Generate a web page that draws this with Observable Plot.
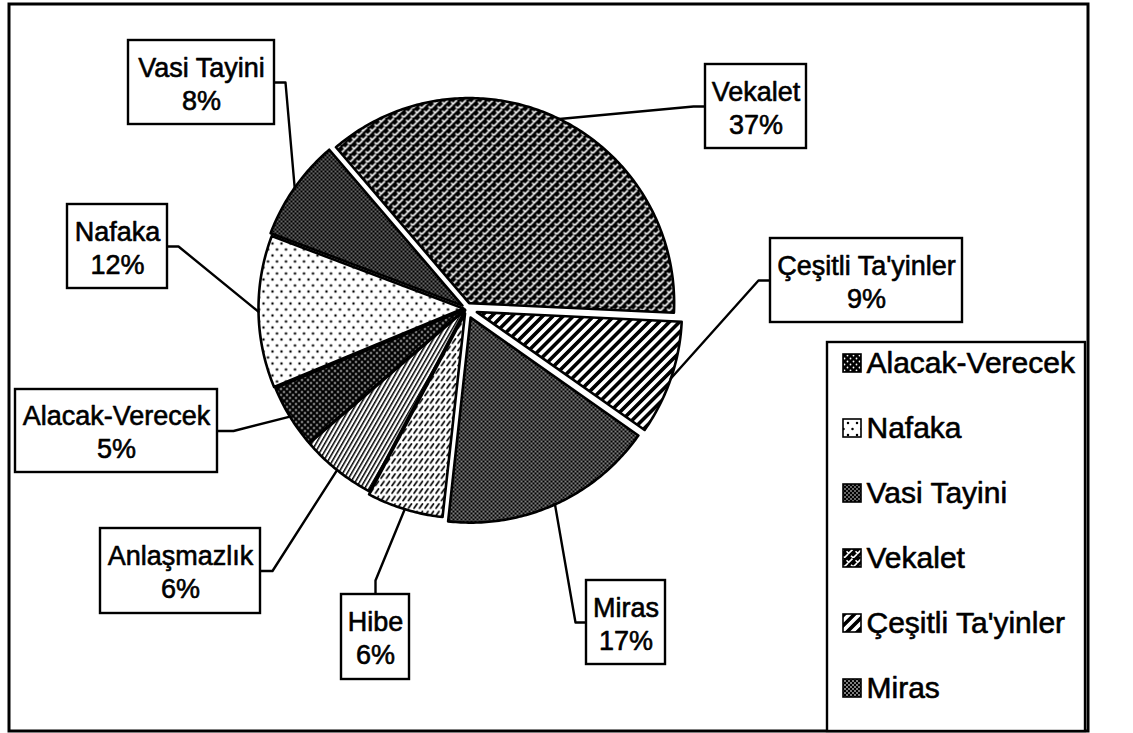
<!DOCTYPE html>
<html><head><meta charset="utf-8">
<script src="https://cdn.jsdelivr.net/npm/d3@7"></script>
<script src="https://cdn.jsdelivr.net/npm/@observablehq/plot@0.6"></script>
<style>html,body{margin:0;padding:0;background:#fff;}</style>
</head><body><div id="chart"></div>
<script>
// ---- data ----
const categories = ["Alacak-Verecek","Nafaka","Vasi Tayini","Vekalet","Çeşitli Ta'yinler","Miras","Hibe","Anlaşmazlık"];
const percents = [5, 12, 8, 37, 9, 17, 6, 6];
const legendItems = ["Alacak-Verecek","Nafaka","Vasi Tayini","Vekalet","Çeşitli Ta'yinler","Miras"];

// ---- layout ----
const W = 1133, H = 733;
const CX = 466, CY = 308, R = 205, START = 229.5;
const explode = [2, 3, 5, 6, 11, 10, 5, 2];
const patternIds = ["p-alacak","p-nafaka","p-vasi","p-vekalet","p-cesitli","p-miras","p-hibe","p-anlas"];
const boxes = [
  {x1: 15,  x2: 217, y1: 389, y2: 472, side: "right", elbow: 16},
  {x1: 67,  x2: 167, y1: 204, y2: 288, side: "right", elbow: 11},
  {x1: 128, x2: 274, y1: 40,  y2: 124, side: "right", elbow: 11},
  {x1: 705, x2: 806, y1: 64,  y2: 148, side: "left",  elbow: 12},
  {x1: 770, x2: 962, y1: 238, y2: 322, side: "left",  elbow: 12},
  {x1: 586, x2: 665, y1: 580, y2: 664, side: "left",  elbow: 11},
  {x1: 341, x2: 409, y1: 594, y2: 679, side: "top",   elbow: 14},
  {x1: 100, x2: 260, y1: 528, y2: 613, side: "right", elbow: 12}
];
const legendBox = {x1: 827, x2: 1085, y1: 342, y2: 731};
const legendY0 = 363, legendStep = 65, swX = 843, swS = 18, legTextX = 866;
const frame = {x1: 9, x2: 1088, y1: 4, y2: 731};
const FONT = "Liberation Sans, Arial, Helvetica, sans-serif";

// ---- geometry from data ----
const toRad = Math.PI / 180;
const arcs = d3.pie().sort(null).value(d => d)
  .startAngle(START * toRad).endAngle(START * toRad + 2 * Math.PI)(percents);

const slicePts = [];
const leaderPts = [];
arcs.forEach((a, i) => {
  const mid = (a.startAngle + a.endAngle) / 2;
  const ox = CX + explode[i] * Math.sin(mid), oy = CY - explode[i] * Math.cos(mid);
  slicePts.push({i, x: ox, y: oy});
  const n = Math.max(10, Math.ceil((a.endAngle - a.startAngle) * 80));
  for (let k = 0; k <= n; k++) {
    const t = a.startAngle + (a.endAngle - a.startAngle) * k / n;
    slicePts.push({i, x: ox + R * Math.sin(t), y: oy - R * Math.cos(t)});
  }
  const b = boxes[i];
  const bcx = (b.x1 + b.x2) / 2, bcy = (b.y1 + b.y2) / 2;
  let anchor, elbow;
  if (b.side === "right") { anchor = [b.x2, bcy]; elbow = [b.x2 + b.elbow, bcy]; }
  else if (b.side === "left") { anchor = [b.x1, bcy]; elbow = [b.x1 - b.elbow, bcy]; }
  else { anchor = [bcx, b.y1]; elbow = [bcx, b.y1 - b.elbow]; }
  leaderPts.push({i, x: ox + R * Math.sin(mid), y: oy - R * Math.cos(mid)});
  leaderPts.push({i, x: elbow[0], y: elbow[1]});
  leaderPts.push({i, x: anchor[0], y: anchor[1]});
});

const labels = boxes.map((b, i) => ({
  x: (b.x1 + b.x2) / 2, y: (b.y1 + b.y2) / 2,
  text: `${categories[i]}\n${percents[i]}%`
}));
const legendRows = legendItems.map((name, k) => ({
  name, y: legendY0 + k * legendStep, pat: patternIds[categories.indexOf(name)]
}));

const sliceMarks = arcs.map((a, i) =>
  Plot.line(slicePts.filter(p => p.i === i), {
    x: "x", y: "y", curve: "linear-closed",
    fill: `url(#${patternIds[i]})`, stroke: "black", strokeWidth: 2.6, strokeLinejoin: "round"
  })
);

const svg = Plot.plot({
  width: W, height: H, margin: 0,
  x: {domain: [0, W], range: [0, W], axis: null},
  y: {domain: [0, H], range: [0, H], axis: null},
  style: {fontFamily: FONT, background: "white"},
  marks: [
    Plot.rect([frame], {x1: "x1", x2: "x2", y1: "y1", y2: "y2", fill: "none", stroke: "black", strokeWidth: 3}),
    ...sliceMarks,
    Plot.line(leaderPts, {x: "x", y: "y", z: "i", stroke: "black", strokeWidth: 2.4}),
    Plot.rect(boxes, {x1: "x1", x2: "x2", y1: "y1", y2: "y2", fill: "white", stroke: "black", strokeWidth: 2.4}),
    Plot.text(labels, {x: "x", y: "y", text: "text", fontSize: 27, lineHeight: 1.22, fill: "black", stroke: "black", strokeWidth: 0.6, fontFamily: FONT}),
    Plot.rect([legendBox], {x1: "x1", x2: "x2", y1: "y1", y2: "y2", fill: "white", stroke: "black", strokeWidth: 2.4}),
    ...legendRows.map(r => Plot.rect([r], {
      x1: () => swX, x2: () => swX + swS, y1: d => d.y - swS / 2, y2: d => d.y + swS / 2,
      fill: `url(#${r.pat})`, stroke: "black", strokeWidth: 1.6
    })),
    Plot.text(legendRows, {x: () => legTextX, y: "y", text: "name", textAnchor: "start", fontSize: 30, fill: "black", stroke: "black", strokeWidth: 0.6, fontFamily: FONT})
  ]
});

const defs = `
<pattern id="p-alacak" patternUnits="userSpaceOnUse" width="6" height="6"><rect width="6" height="6" fill="#000"/><circle cx="1.5" cy="1.5" r="0.9" fill="#fff"/><circle cx="4.5" cy="4.5" r="0.9" fill="#fff"/></pattern>
<pattern id="p-nafaka" patternUnits="userSpaceOnUse" width="9" height="12"><rect width="9" height="12" fill="#fff"/><circle cx="2" cy="3" r="1.25" fill="#000"/><circle cx="6.5" cy="9" r="1.25" fill="#000"/></pattern>
<pattern id="p-vasi" patternUnits="userSpaceOnUse" width="4" height="4"><rect width="4" height="4" fill="#000"/><circle cx="1" cy="1" r="0.75" fill="#fff"/><circle cx="3" cy="3" r="0.75" fill="#fff"/></pattern>
<pattern id="p-vekalet" patternUnits="userSpaceOnUse" width="9" height="9"><rect width="9" height="9" fill="#000"/><path d="M0.5,2.2 l2.2,2.2 l3.8,-3.8 M5,6.7 l2.2,2.2 l3.8,-3.8 M-4,6.7 l2.2,2.2 l3.8,-3.8" stroke="#fff" stroke-width="1.6" fill="none"/></pattern>
<pattern id="p-cesitli" patternUnits="userSpaceOnUse" width="7.2" height="10" patternTransform="rotate(45)"><rect width="7.2" height="10" fill="#fff"/><rect width="3.6" height="10" fill="#000"/></pattern>
<pattern id="p-miras" patternUnits="userSpaceOnUse" width="4" height="4"><rect width="4" height="4" fill="#000"/><rect x="0.3" y="0.3" width="1.4" height="1.4" fill="#fff"/><rect x="2.3" y="2.3" width="1.4" height="1.4" fill="#fff"/></pattern>
<pattern id="p-hibe" patternUnits="userSpaceOnUse" width="5.5" height="7.5"><rect width="5.5" height="7.5" fill="#fff"/><path d="M1,5.2 L4,1" stroke="#000" stroke-width="1.7" stroke-linecap="round"/></pattern>
<pattern id="p-anlas" patternUnits="userSpaceOnUse" width="3.8" height="10" patternTransform="rotate(30)"><rect width="3.8" height="10" fill="#fff"/><rect width="1.5" height="10" fill="#000"/></pattern>`;
const doc = new DOMParser().parseFromString(`<svg xmlns="http://www.w3.org/2000/svg"><defs>${defs}</defs></svg>`, "image/svg+xml");
svg.insertBefore(document.importNode(doc.querySelector("defs"), true), svg.firstChild);

document.getElementById("chart").appendChild(svg);
</script>
</body></html>
